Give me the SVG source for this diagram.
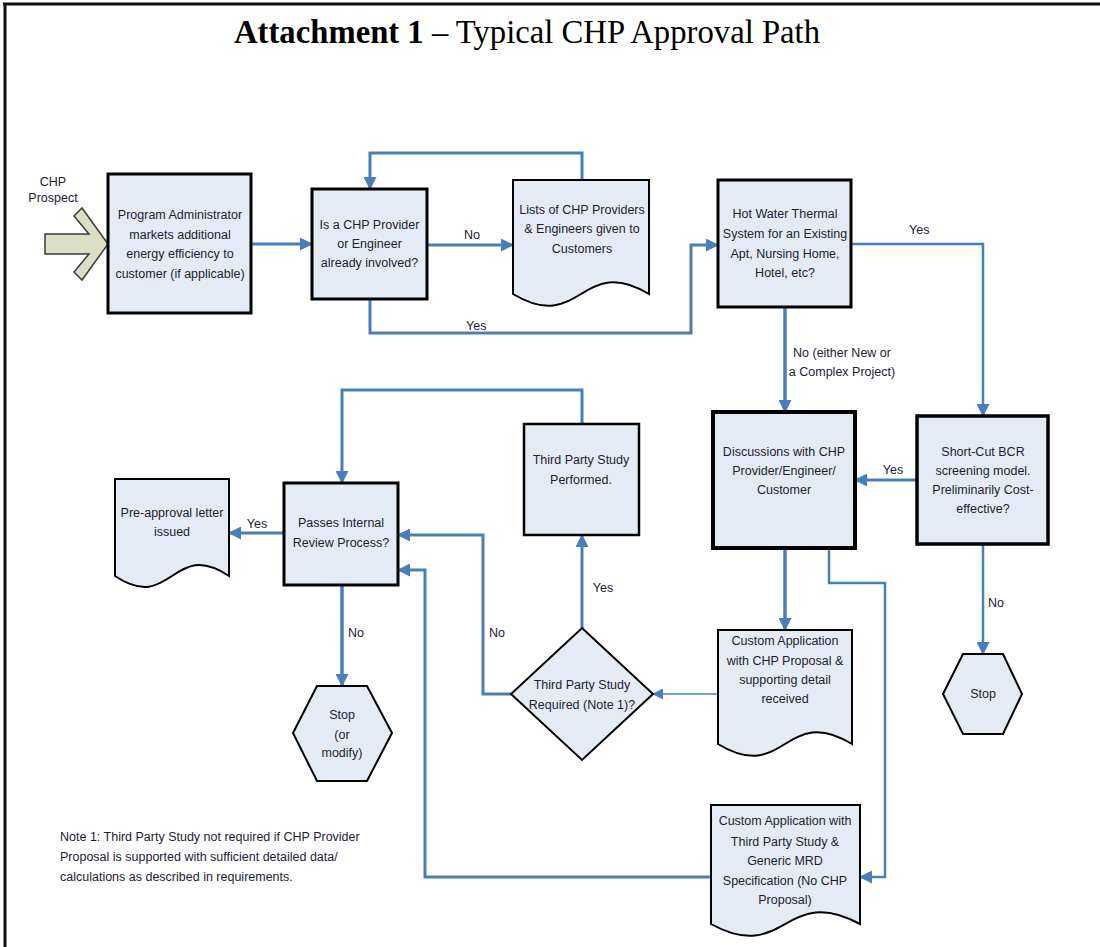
<svg xmlns="http://www.w3.org/2000/svg" width="1100" height="947" viewBox="0 0 1100 947">
<defs>
<marker id="ah" markerUnits="userSpaceOnUse" markerWidth="13" markerHeight="13" refX="12" refY="6.5" orient="auto">
<path d="M0,0 L13,6.5 L0,13 z" fill="#4a7ebb"/>
</marker>
<marker id="ahs" markerUnits="userSpaceOnUse" markerWidth="11" markerHeight="11" refX="10" refY="5.5" orient="auto">
<path d="M0,0 L11,5.5 L0,11 z" fill="#4a7ebb"/>
</marker>
</defs>
<style>
.bx{fill:#e5ebf5;stroke:#000;stroke-width:3}
.doc{fill:#e5ebf5;stroke:#000;stroke-width:2}
.t{font-family:"Liberation Sans",Arial,sans-serif;font-size:12.5px;fill:#1c1c34;text-anchor:middle}
.l{font-family:"Liberation Sans",Arial,sans-serif;font-size:12.5px;fill:#1c1c34}
.c{fill:none;stroke:#4a7ebb;stroke-width:3;marker-end:url(#ah)}
.cn{fill:none;stroke:#4a7ebb;stroke-width:3}
</style>
<rect x="0" y="0" width="1100" height="947" fill="#fff"/>
<line x1="3" y1="4" x2="1100" y2="4" stroke="#111" stroke-width="3"/>
<line x1="5" y1="3" x2="5" y2="947" stroke="#111" stroke-width="3"/>
<text x="234" y="43" font-family="'Liberation Serif','Times New Roman',serif" font-size="33" fill="#000" textLength="586" lengthAdjust="spacingAndGlyphs"><tspan font-weight="bold">Attachment 1</tspan> – Typical CHP Approval Path</text>

<g id="connectors">
<path class="c" d="M251,244 H312"/>
<path class="c" d="M582,180 V153 H370 V189"/>
<path class="c" d="M427,245 H513"/>
<path class="c" d="M370,299 V333 H691 V245 H718"/>
<path class="c" d="M851,244 H983 V416" style="stroke-width:2.5"/>
<path class="c" d="M785,307 V412" style="stroke-width:3.5"/>
<path class="c" d="M917,480 H855"/>
<path class="c" d="M983,544 V654" style="stroke-width:2.5"/>
<path class="c" d="M785,548 V630" style="stroke-width:3.5"/>
<path class="c" d="M829,548 V583 H885 V877 H860" style="stroke-width:2.5"/>
<path class="c" d="M718,694 H653" style="stroke-width:1.5;marker-end:url(#ahs)"/>
<path class="c" d="M582,628 V535"/>
<path class="c" d="M511,694 H483 V535 H398"/>
<path class="c" d="M582,424 V390 H342 V483"/>
<path class="c" d="M284,533 H229"/>
<path class="c" d="M342,585 V686" style="stroke-width:3.5"/>
<path class="c" d="M711,877 H425 V570 H398"/>
<text class="l" x="464" y="239">No</text>
<text class="l" x="466" y="330">Yes</text>
<text class="l" x="909" y="234">Yes</text>
<text class="t" x="842" y="357">No (either New or</text>
<text class="t" x="842" y="376">a Complex Project)</text>
<text class="t" x="893" y="474">Yes</text>
<text class="l" x="988" y="607">No</text>
<text class="t" x="257" y="528">Yes</text>
<text class="t" x="356" y="637">No</text>
<text class="t" x="603" y="592">Yes</text>
<text class="t" x="497" y="637">No</text>
</g>

<g id="prospect">
<polygon points="45,234 89,234 74,216 82,208 108,244 82,280 74,272 89,254 45,254" fill="#dcdfc6" stroke="#3a3a3a" stroke-width="1.5"/>
<text class="t" x="53" y="186" font-size="12">CHP</text>
<text class="t" x="53" y="202" font-size="12">Prospect</text>
</g>

<g id="program-admin">
<rect class="bx" x="108" y="174" width="143" height="139"/>
<text class="t" x="180" y="219">Program Administrator</text>
<text class="t" x="180" y="239">markets additional</text>
<text class="t" x="180" y="258">energy efficiency to</text>
<text class="t" x="180" y="278">customer (if applicable)</text>
</g>

<g id="provider-involved">
<rect class="bx" x="312" y="189" width="115" height="110"/>
<text class="t" x="369.5" y="229">Is a CHP Provider</text>
<text class="t" x="369.5" y="248">or Engineer</text>
<text class="t" x="369.5" y="267">already involved?</text>
</g>

<g id="lists">
<path class="doc" d="M513,180 H649 V294 C581,253 581,335 513,294 Z"/>
<text class="t" x="582" y="214">Lists of CHP Providers</text>
<text class="t" x="582" y="233">&amp; Engineers given to</text>
<text class="t" x="582" y="253">Customers</text>
</g>

<g id="hot-water">
<rect class="bx" x="718" y="180" width="133" height="127"/>
<text class="t" x="785" y="218">Hot Water Thermal</text>
<text class="t" x="785" y="238">System for an Existing</text>
<text class="t" x="785" y="258">Apt, Nursing Home,</text>
<text class="t" x="785" y="277">Hotel, etc?</text>
</g>

<g id="discussions">
<rect class="bx" x="713" y="412" width="142" height="136" style="stroke-width:4"/>
<text class="t" x="784" y="456">Discussions with CHP</text>
<text class="t" x="784" y="475">Provider/Engineer/</text>
<text class="t" x="784" y="494">Customer</text>
</g>

<g id="short-cut">
<rect class="bx" x="917" y="416" width="131" height="128" style="stroke-width:3.5"/>
<text class="t" x="983" y="456">Short-Cut BCR</text>
<text class="t" x="983" y="475">screening model.</text>
<text class="t" x="983" y="494">Preliminarily Cost-</text>
<text class="t" x="983" y="513">effective?</text>
</g>

<g id="stop-right">
<polygon points="943,694 963,654 1003,654 1022,694 1003,734 963,734" fill="#e5ebf5" stroke="#000" stroke-width="2"/>
<text class="t" x="983" y="698">Stop</text>
</g>

<g id="custom-app">
<path class="doc" d="M718,630 H852 V744 C785,703 785,785 718,744 Z"/>
<text class="t" x="785" y="645">Custom Application</text>
<text class="t" x="785" y="665">with CHP Proposal &amp;</text>
<text class="t" x="785" y="684">supporting detail</text>
<text class="t" x="785" y="703">received</text>
</g>

<g id="third-party-required">
<polygon points="582,628 653,694 582,760 511,694" fill="#e5ebf5" stroke="#000" stroke-width="2"/>
<text class="t" x="582" y="689">Third Party Study</text>
<text class="t" x="582" y="709">Required (Note 1)?</text>
</g>

<g id="third-party-performed">
<rect class="bx" x="524" y="424" width="115" height="111" style="stroke-width:2.5"/>
<text class="t" x="581" y="464">Third Party Study</text>
<text class="t" x="581" y="484">Performed.</text>
</g>

<g id="passes-review">
<rect class="bx" x="284" y="483" width="114" height="102"/>
<text class="t" x="341" y="527">Passes Internal</text>
<text class="t" x="341" y="547">Review Process?</text>
</g>

<g id="pre-approval">
<path class="doc" d="M115,479 H229 V576 C172,538 172,614 115,576 Z"/>
<text class="t" x="172" y="517">Pre-approval letter</text>
<text class="t" x="172" y="536">issued</text>
</g>

<g id="stop-modify">
<polygon points="293,733 317,686 367,686 392,733 367,781 317,781" fill="#e5ebf5" stroke="#000" stroke-width="2"/>
<text class="t" x="342" y="719">Stop</text>
<text class="t" x="342" y="739">(or</text>
<text class="t" x="342" y="757">modify)</text>
</g>

<g id="custom-app-third-party">
<path class="doc" d="M711,805 H860 V924 C785,883 785,965 711,924 Z"/>
<text class="t" x="785" y="825">Custom Application with</text>
<text class="t" x="785" y="846">Third Party Study &amp;</text>
<text class="t" x="785" y="865">Generic MRD</text>
<text class="t" x="785" y="885">Specification (No CHP</text>
<text class="t" x="785" y="904">Proposal)</text>
</g>

<g id="note">
<text class="l" x="60" y="841" font-size="12">Note 1: Third Party Study not required if CHP Provider</text>
<text class="l" x="60" y="861" font-size="12">Proposal is supported with sufficient detailed data/</text>
<text class="l" x="60" y="881" font-size="12">calculations as described in requirements.</text>
</g>
</svg>
